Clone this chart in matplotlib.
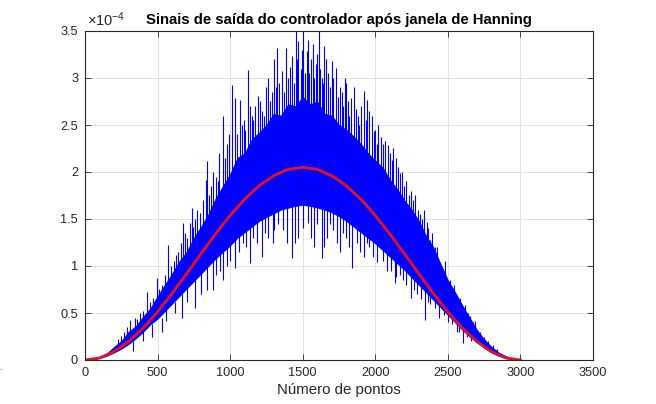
import matplotlib
matplotlib.use('Agg')
import matplotlib.pyplot as plt
from matplotlib.ticker import FuncFormatter

plt.rcParams['font.family'] = ['Liberation Sans', 'DejaVu Sans']
plt.rcParams['mathtext.default'] = 'regular'

# values, in units of 1e-4
# dense part of the blue signal
band_x = list(range(0, 3001, 50))
band_hi = [0, 0.01, 0.03, 0.07, 0.14, 0.2, 0.3, 0.36, 0.46, 0.55, 0.68, 0.8, 0.92, 1.05, 1.15, 1.3,
           1.42, 1.55, 1.72, 1.85, 1.98, 2.15, 2.2, 2.35, 2.42, 2.5, 2.62, 2.6, 2.72, 2.7, 2.8,
           2.72, 2.75, 2.62, 2.6, 2.5, 2.45, 2.38, 2.3, 2.2, 2.12, 2.05, 1.92, 1.82, 1.7, 1.6,
           1.48, 1.32, 1.2, 1.02, 0.85, 0.72, 0.58, 0.45, 0.32, 0.22, 0.14, 0.08, 0.04, 0.01, 0]
band_lo = [0, 0.005, 0.02, 0.045, 0.08, 0.12, 0.17, 0.23, 0.3, 0.38, 0.44, 0.52, 0.6, 0.68, 0.76, 0.84,
           0.92, 1.0, 1.08, 1.15, 1.22, 1.3, 1.36, 1.42, 1.48, 1.52, 1.56, 1.6, 1.62, 1.64, 1.65,
           1.64, 1.62, 1.6, 1.57, 1.53, 1.48, 1.42, 1.36, 1.3, 1.24, 1.17, 1.1, 1.03, 0.96, 0.88,
           0.8, 0.72, 0.64, 0.56, 0.48, 0.4, 0.32, 0.25, 0.19, 0.13, 0.08, 0.045, 0.02, 0.005, 0]

# red curve (Hanning envelope)
hann_x = list(range(0, 3001, 100))
hann = [0, 0.022, 0.089, 0.196, 0.339, 0.512, 0.708, 0.918, 1.132, 1.342, 1.538, 1.711, 1.854, 1.961, 2.028, 2.05,
        2.028, 1.961, 1.854, 1.711, 1.538, 1.342, 1.132, 0.918, 0.708, 0.512, 0.339, 0.196, 0.089, 0.022, 0]

# upward spikes: x, top, base
up_x = [230, 270, 310, 344, 380, 425, 448, 470, 496, 530, 574, 610, 640, 677, 700, 723, 737, 760, 792, 833,
        838, 870, 900, 925, 948, 980, 1010, 1033, 1050, 1068, 1095, 1120, 1150, 1170, 1194, 1220, 1245, 1274,
        1302, 1325, 1340, 1355, 1384, 1400, 1424, 1451, 1469, 1485, 1504, 1527, 1545, 1568, 1590, 1614, 1630,
        1649, 1675, 1699, 1727, 1760, 1780, 1800, 1820, 1836, 1864, 1890, 1924, 1944, 1960, 1990, 2010, 2036,
        2070, 2087, 2112, 2140, 2170, 2200, 2230, 2260, 2293, 2320, 2353, 2376, 2410, 2440, 2466, 2500, 2530,
        2569, 2600, 2638, 2670, 2698, 2750, 2810,
        250, 290, 360, 400, 510, 550, 590, 625, 660, 690, 745, 775, 815, 855, 885, 915, 965, 995, 1080, 1105,
        1135, 1160, 1208, 1232, 1260, 1288, 1315, 1370, 1410, 1438, 1460, 1495, 1515, 1535, 1555, 1580, 1600,
        1622, 1640, 1660, 1688, 1710, 1740, 1770, 1790, 1812, 1850, 1878, 1905, 1935, 1975, 2000, 2022, 2050,
        2100, 2125, 2155, 2185, 2215, 2245, 2275, 2305, 2335, 2365, 2390, 2425, 2455, 2480, 2515, 2545, 2585,
        2620, 2655, 2685, 2720, 2780, 2840]
up_top = [0.22, 0.3, 0.43, 0.45, 0.5, 0.72, 0.62, 0.66, 0.87, 0.8, 1.22, 1.05, 1.15, 1.46, 1.3, 1.46, 1.62, 1.5, 1.56, 1.91,
          2.12, 1.85, 1.95, 2.2, 2.6, 2.3, 2.93, 2.79, 2.4, 2.77, 2.55, 3.08, 2.6, 2.7, 2.81, 2.65, 2.9, 2.76,
          3.2, 3.32, 2.95, 3.07, 3.32, 3.0, 3.23, 3.5, 3.39, 3.1, 3.5, 3.29, 3.05, 3.36, 3.15, 3.5, 3.0,
          3.34, 3.05, 3.18, 3.11, 2.9, 2.7, 2.95, 2.6, 2.79, 2.67, 2.5, 2.86, 2.77, 2.65, 2.44, 2.3, 2.37,
          2.33, 2.29, 2.13, 2.15, 1.99, 1.85, 1.75, 1.7, 1.6, 1.5, 1.47, 1.28, 1.2, 1.05, 0.85, 0.82, 0.72,
          0.57, 0.58, 0.5, 0.4, 0.32, 0.25, 0.16,
          0.26, 0.35, 0.44, 0.52, 0.76, 0.9, 1.0, 1.12, 1.25, 1.35, 1.42, 1.6, 1.7, 1.75, 2.0, 1.9, 2.15, 2.4, 2.5, 2.45,
          2.7, 2.55, 2.75, 2.6, 3.0, 2.85, 2.9, 2.85, 3.12, 2.95, 3.2, 3.3, 3.05, 3.4, 3.2, 3.0, 3.25,
          3.1, 2.95, 3.2, 2.9, 3.0, 2.8, 2.85, 3.0, 2.75, 2.9, 2.6, 2.7, 2.55, 2.6, 2.45, 2.5, 2.3,
          2.2, 2.25, 2.05, 2.0, 1.9, 1.8, 1.75, 1.55, 1.6, 1.4, 1.35, 1.2, 1.0, 1.05, 0.85, 0.8, 0.66,
          0.58, 0.47, 0.42, 0.3, 0.2, 0.12]
up_base = [0.12, 0.17, 0.22, 0.26, 0.3, 0.36, 0.38, 0.4, 0.5, 0.55, 0.6, 0.7, 0.75, 0.8, 0.85, 0.9, 0.95, 1.0, 1.1, 1.15,
           1.2, 1.3, 1.4, 1.45, 1.5, 1.6, 1.65, 1.7, 1.8, 1.85, 1.9, 1.95, 2.0, 2.05, 2.1, 2.2, 2.2, 2.3,
           2.3, 2.35, 2.4, 2.4, 2.45, 2.45, 2.5, 2.5, 2.5, 2.5, 2.5, 2.5, 2.5, 2.5, 2.5, 2.5, 2.45,
           2.45, 2.4, 2.4, 2.35, 2.3, 2.3, 2.25, 2.2, 2.2, 2.15, 2.1, 2.05, 2.0, 2.0, 1.95, 1.9, 1.85,
           1.8, 1.75, 1.7, 1.65, 1.6, 1.55, 1.5, 1.4, 1.35, 1.3, 1.2, 1.1, 1.0, 0.95, 0.8, 0.75, 0.65,
           0.5, 0.45, 0.4, 0.3, 0.25, 0.18, 0.1,
           0.15, 0.2, 0.3, 0.38, 0.55, 0.7, 0.8, 0.9, 1.0, 1.05, 1.15, 1.25, 1.35, 1.45, 1.6, 1.65, 1.8, 1.9, 2.1, 2.1,
           2.2, 2.3, 2.35, 2.4, 2.45, 2.5, 2.55, 2.55, 2.6, 2.6, 2.65, 2.7, 2.7, 2.7, 2.65, 2.65, 2.65,
           2.6, 2.6, 2.55, 2.5, 2.5, 2.45, 2.4, 2.4, 2.35, 2.3, 2.3, 2.25, 2.2, 2.1, 2.05, 2.0, 1.95,
           1.85, 1.8, 1.75, 1.7, 1.6, 1.55, 1.5, 1.4, 1.3, 1.25, 1.15, 1.05, 0.95, 0.9, 0.75, 0.68, 0.55,
           0.5, 0.4, 0.3, 0.25, 0.15, 0.08]

# downward spikes: x, bottom, base
dn_x = [330, 400, 460, 530, 666, 758, 800, 838, 880, 951, 980, 1033, 1090, 1136, 1182, 1220, 1260, 1297, 1302,
        1361, 1395, 1423, 1470, 1534, 1580, 1630, 1670, 1710, 1760, 1800, 1843, 1871, 1920, 1960, 2009, 2032,
        2080, 2135, 2146, 2190, 2243, 2290, 2341, 2380, 2440, 2500, 2560, 2601, 2660,
        1000, 1060, 1110, 1160, 1240, 1330, 1450, 1500, 1555, 1600, 1650, 1690, 1735, 1780, 1820, 1895, 1940,
        1985, 2055, 2110, 2170, 2215, 2265, 2315, 2360, 2410, 2470, 2530, 2580, 2630, 700, 620, 560, 900, 930]
dn_bottom = [0.1, 0.2, 0.24, 0.3, 0.45, 0.55, 0.7, 0.75, 0.75, 0.85, 1.0, 0.98, 1.24, 1.03, 1.24, 1.1, 1.3, 1.24, 1.38,
             1.38, 1.25, 1.08, 1.3, 1.46, 1.2, 1.08, 1.3, 1.38, 1.15, 1.3, 0.98, 1.24, 1.1, 1.2, 1.04, 1.2,
             0.95, 0.82, 0.88, 0.85, 0.66, 0.7, 0.43, 0.6, 0.45, 0.4, 0.3, 0.18, 0.2,
             1.05, 1.15, 1.2, 1.3, 1.35, 1.45, 1.25, 1.4, 1.3, 1.45, 1.2, 1.45, 1.25, 1.35, 1.2, 1.15, 1.25,
             1.1, 1.05, 0.95, 0.9, 0.8, 0.75, 0.65, 0.62, 0.55, 0.48, 0.38, 0.3, 0.24, 0.62, 0.5, 0.42, 0.9, 0.95]
dn_base = [0.2, 0.3, 0.38, 0.45, 0.7, 0.85, 0.95, 1.0, 1.05, 1.2, 1.3, 1.3, 1.4, 1.45, 1.5, 1.5, 1.6, 1.6, 1.6,
           1.65, 1.65, 1.65, 1.7, 1.7, 1.7, 1.7, 1.65, 1.65, 1.6, 1.6, 1.55, 1.5, 1.45, 1.4, 1.35, 1.3,
           1.25, 1.15, 1.15, 1.05, 1.0, 0.9, 0.85, 0.75, 0.65, 0.5, 0.42, 0.35, 0.28,
           1.3, 1.35, 1.4, 1.45, 1.55, 1.62, 1.65, 1.7, 1.7, 1.7, 1.65, 1.62, 1.58, 1.55, 1.5, 1.42, 1.36,
           1.3, 1.22, 1.15, 1.05, 1.0, 0.9, 0.85, 0.75, 0.68, 0.6, 0.48, 0.4, 0.3, 0.78, 0.62, 0.55, 1.1, 1.15]

scale = 1e-4
sc = lambda v: [a * scale for a in v]

fig = plt.figure(figsize=(6.56, 4.04), dpi=100)
ax = fig.add_axes([85 / 656, 44 / 404, 508 / 656, 329 / 404])

ax.fill_between(band_x, sc(band_lo), sc(band_hi), color='#0000ff', lw=0.6)
ax.vlines(up_x, sc(up_base), sc(up_top), color='#0000ff', lw=0.8)
ax.vlines(dn_x, sc(dn_bottom), sc(dn_base), color='#0000ff', lw=0.8)
ax.plot(hann_x, sc(hann), color='#e8101e', lw=2.0)

ax.set_xlim(0, 3500)
ax.set_ylim(0, 3.5e-4)
ax.set_xticks(range(0, 3501, 500))
ax.set_yticks([i * 0.5e-4 for i in range(8)])
ax.yaxis.set_major_formatter(FuncFormatter(lambda v, p: f'{v * 1e4:g}'))
ax.grid(True, color='#dcdcdc', lw=0.6)
ax.set_axisbelow(True)
ax.tick_params(direction='in', top=True, right=True, length=4, width=0.6,
               labelsize=9.2, colors='#262626', pad=5)
for s in ax.spines.values():
    s.set_color('#262626')
    s.set_linewidth(0.8)

ax.text(0.004, 1.006, r'$\times10^{-4}$', transform=ax.transAxes, fontsize=10.5,
        color='#262626', ha='left', va='bottom')
ax.set_title('Sinais de saída do controlador após janela de Hanning',
             fontsize=10.7, fontweight='bold', color='black', pad=5)
ax.set_xlabel('Número de pontos', fontsize=10.8, color='#262626', labelpad=3)
fig.text(0.0, 33 / 404, '-', fontsize=6, color='#777777')

fig.savefig('out.png', dpi=100)
